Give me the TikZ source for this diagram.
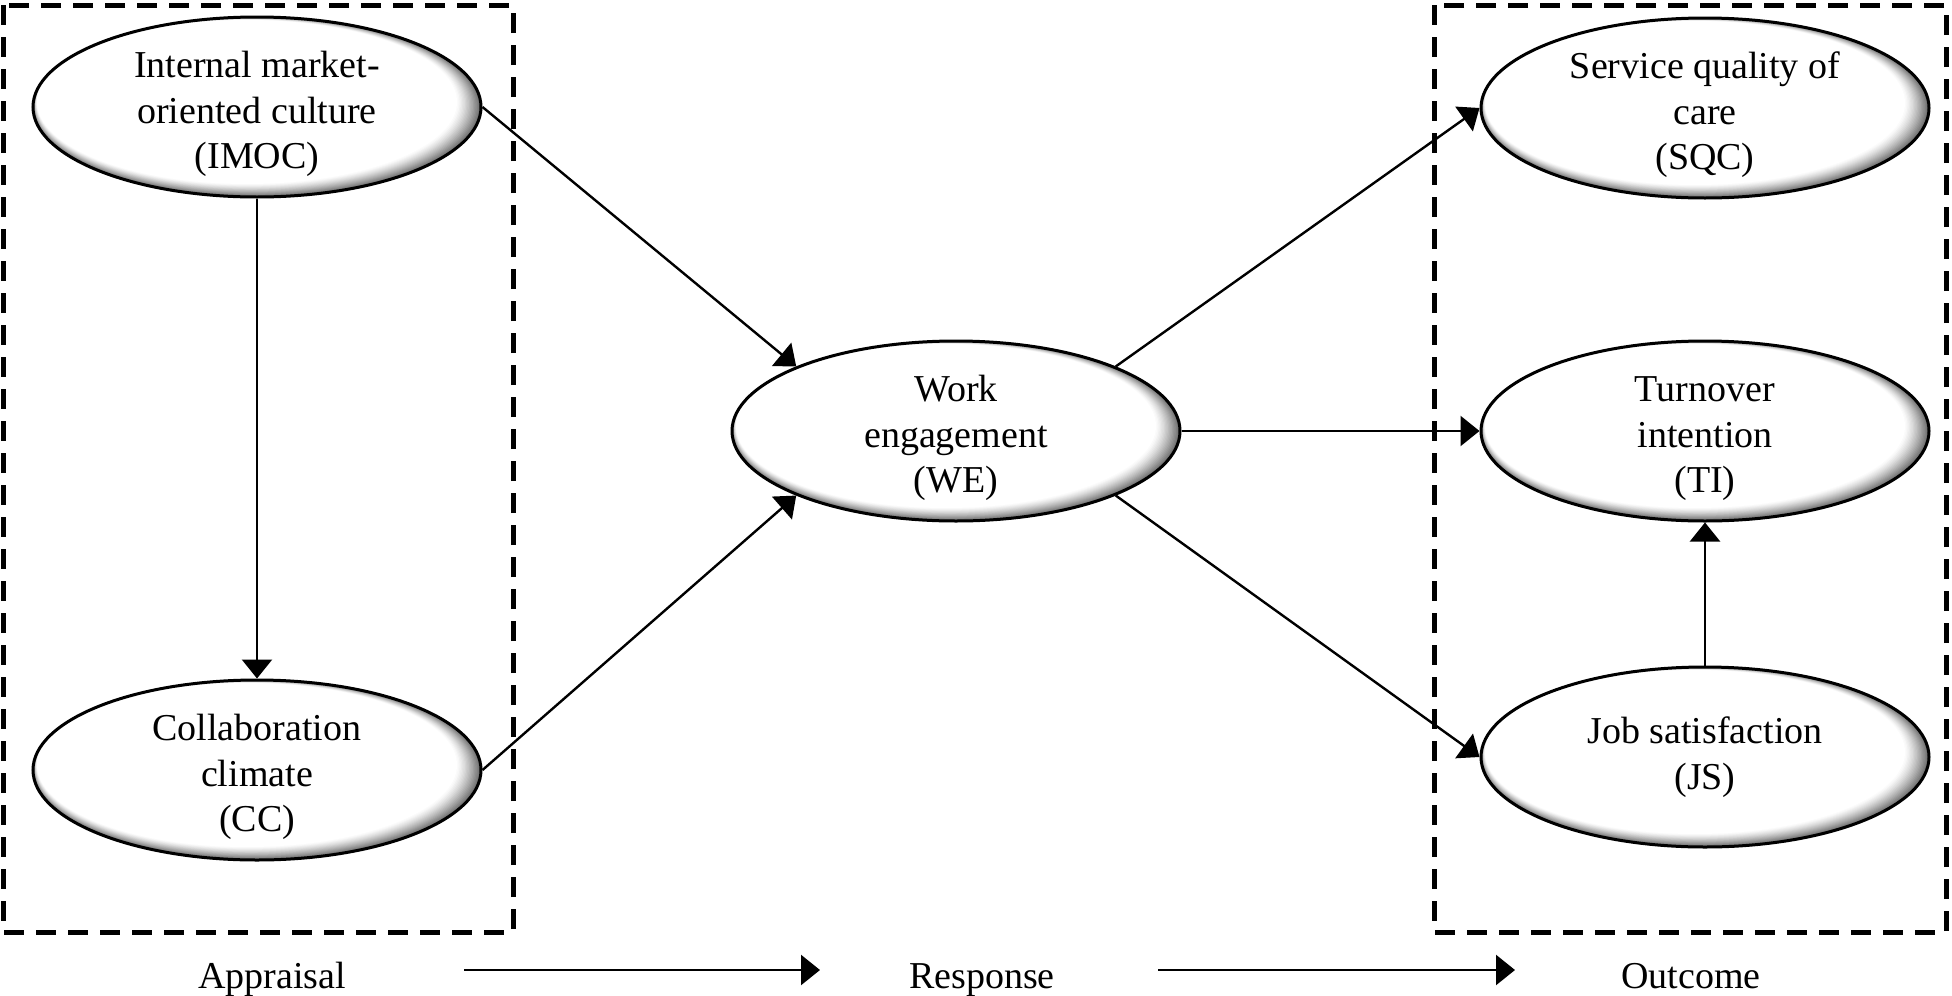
\documentclass[tikz,border=0pt]{standalone}
\usepackage{fontspec}
\setmainfont{Liberation Serif}
\usetikzlibrary{arrows.meta,shapes.geometric}
\tikzset{
  oval/.style={ellipse, draw=black, line width=3pt,
    minimum width=448pt, minimum height=180pt, inner sep=0pt, align=center,
    font=\fontsize{38}{45.5}\selectfont},
  link/.style={line width=2.4pt, -{Triangle[length=19pt,width=30pt]}},
  groupbox/.style={draw=black, line width=5pt, dash pattern=on 20pt off 12pt},
  stage/.style={font=\fontsize{38}{46}\selectfont, inner sep=0pt, anchor=base}
}
\newcommand\ovaltext[1]{\smash{\raisebox{29.5pt}{\begin{tabular}[t]{@{}c@{}}#1\end{tabular}}}}
\newcommand\ovalglow[1]{%
  \begin{scope}
    \clip (#1) ellipse [x radius=224, y radius=90];
    \foreach \i in {0,...,18}{%
      \pgfmathsetmacro\tt{\i/18}%
      \pgfmathsetmacro\gg{58*(1-\tt)^1.3}%
      \pgfmathsetmacro\rxx{224-14*\tt}%
      \pgfmathsetmacro\ryy{90-8*\tt}%
      \pgfmathsetmacro\dxx{-10*\tt}%
      \pgfmathsetmacro\dyy{-5*\tt}%
      \fill[black!\gg, shift={(#1)}] (\dxx,\dyy) ellipse [x radius=\rxx, y radius=\ryy];
    }
  \end{scope}}
\begin{document}
\begin{tikzpicture}[x=1pt,y=-1pt]
\useasboundingbox (0,0) rectangle (1952,996);
\draw[groupbox] (3,5) rectangle (513,932);
\draw[groupbox] (1434,5) rectangle (1946,932);

\coordinate (imocC) at (257,107);
\coordinate (ccC) at (257,770);
\coordinate (weC) at (956,431);
\coordinate (sqcC) at (1705,108);
\coordinate (tiC) at (1705,431);
\coordinate (jsC) at (1705,757);
\ovalglow{imocC}
\ovalglow{ccC}
\ovalglow{weC}
\ovalglow{sqcC}
\ovalglow{tiC}
\ovalglow{jsC}

\node[oval] (imoc) at (imocC) {\ovaltext{Internal market-\\oriented culture\\(IMOC)}};
\node[oval] (cc) at (ccC) {\ovaltext{Collaboration\\climate\\(CC)}};
\node[oval] (we) at (weC) {\ovaltext{Work\\engagement\\(WE)}};
\node[oval] (sqc) at (sqcC) {\ovaltext{Service quality of\\care\\(SQC)}};
\node[oval] (ti) at (tiC) {\ovaltext{Turnover\\intention\\(TI)}};
\node[oval] (js) at (jsC) {Job satisfaction\\(JS)};

\draw[link] (imoc.south) -- (cc.north);
\draw[link] (imoc.east) -- (we.158);
\draw[link] (cc.east) -- (we.202);
\draw[link] (we.22) -- (sqc.west);
\draw[link] (we.east) -- (ti.west);
\draw[link] (we.-22) -- (js.west);
\draw[link] (js.north) -- (ti.south);

\node[stage] (app) at (272,988) {Appraisal};
\node[stage] (resp) at (982,988) {Response};
\node[stage] (out) at (1691,988) {Outcome};
\coordinate (a1s) at (464,970);
\coordinate (a1e) at (820,970);
\coordinate (a2s) at (1158,970);
\coordinate (a2e) at (1515,970);
\draw[link] (a1s) -- (a1e);
\draw[link] (a2s) -- (a2e);
\end{tikzpicture}
\end{document}
